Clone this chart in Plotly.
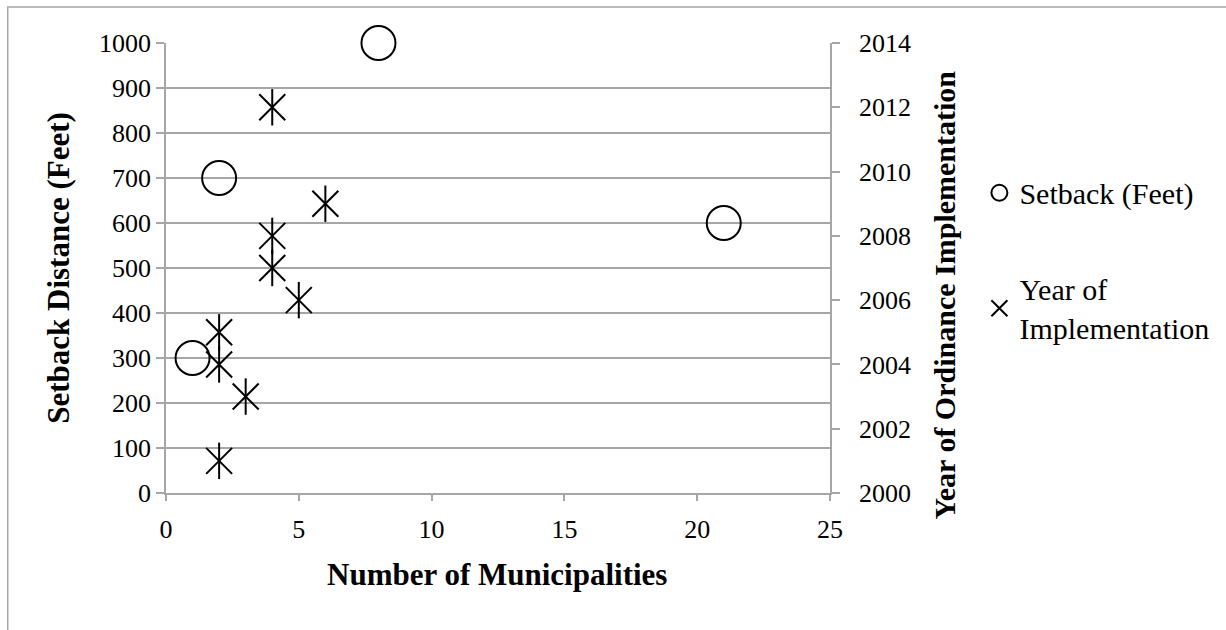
import plotly.graph_objects as go

# Setback distance (feet) by number of municipalities
setback_munis = [1, 2, 8, 21]
setback_feet = [300, 700, 1000, 600]

# Year the ordinance was implemented, by number of municipalities
year_munis = [2, 3, 2, 2, 5, 4, 4, 6, 4]
year_impl = [2001, 2003, 2004, 2005, 2006, 2007, 2008, 2009, 2012]

x_ticks = [0, 5, 10, 15, 20, 25]
left_ticks = list(range(0, 1001, 100))
right_ticks = list(range(2000, 2015, 2))

GRID = "#a6a6a6"
SERIF = "Liberation Serif, Times New Roman, serif"

fig = go.Figure()

fig.add_trace(go.Scatter(
    x=setback_munis, y=setback_feet, mode="markers", name="Setback (Feet)",
    legendgroup="a", cliponaxis=False,
    marker=dict(symbol="circle-open", size=34, color="black",
                line=dict(color="black", width=2)),
    yaxis="y",
))

# asterisk-style marker: diagonal cross plus a vertical stroke
fig.add_trace(go.Scatter(
    x=year_munis, y=year_impl, mode="markers", name="Year of<br>Implementation",
    legendgroup="b", cliponaxis=False,
    marker=dict(symbol="x-thin-open", size=26, color="black",
                line=dict(color="black", width=2)),
    yaxis="y2",
))
fig.add_trace(go.Scatter(
    x=year_munis, y=year_impl, mode="markers", showlegend=False,
    legendgroup="b", cliponaxis=False,
    marker=dict(symbol="line-ns-open", size=26, color="black",
                line=dict(color="black", width=2)),
    yaxis="y2",
))

fig.update_layout(
    width=1226, height=630,
    margin=dict(l=166, r=393, t=43, b=137),
    paper_bgcolor="white", plot_bgcolor="white",
    font=dict(family=SERIF, size=26, color="black"),
    xaxis=dict(
        range=[0, 25], tickvals=x_ticks, ticktext=[str(v) for v in x_ticks],
        showgrid=False, zeroline=False,
        showline=True, linecolor=GRID, linewidth=1.5,
        ticks="outside", ticklen=6, tickcolor=GRID, tickwidth=1.5,
        tickfont=dict(size=26), ticklabelstandoff=6,
    ),
    yaxis=dict(
        range=[0, 1000], tickvals=left_ticks, ticktext=[str(v) for v in left_ticks],
        showgrid=True, gridcolor=GRID, gridwidth=1.5, zeroline=False,
        showline=True, linecolor=GRID, linewidth=1.5,
        ticks="outside", ticklen=8, tickcolor=GRID, tickwidth=1.5,
        tickfont=dict(size=26),
    ),
    yaxis2=dict(
        range=[2000, 2014], tickvals=right_ticks, ticktext=[str(v) for v in right_ticks],
        overlaying="y", side="right", showgrid=False, zeroline=False,
        showline=True, linecolor=GRID, linewidth=1.5,
        ticks="outside", ticklen=8, tickcolor=GRID, tickwidth=1.5,
        tickfont=dict(size=26), ticklabelstandoff=14,
    ),
    legend=dict(
        x=1.225, y=0.725, xanchor="left", yanchor="top",
        font=dict(family=SERIF, size=30), bgcolor="rgba(0,0,0,0)",
        itemsizing="trace", tracegroupgap=54, traceorder="grouped",
    ),
    showlegend=True,
)

fig.add_annotation(
    text="<b>Setback Distance (Feet)</b>", xref="paper", yref="paper",
    x=-0.163, y=0.5, xanchor="center", yanchor="middle",
    textangle=-90, showarrow=False,
    font=dict(family=SERIF, size=31),
)
fig.add_annotation(
    text="<b>Number of Municipalities</b>", xref="paper", yref="paper",
    x=0.498, y=-0.182, xanchor="center", yanchor="middle", showarrow=False,
    font=dict(family=SERIF, size=31),
)
fig.add_annotation(
    text="<b>Year of Ordinance Implementation</b>", xref="paper", yref="paper",
    x=1.171, y=0.44, xanchor="center", yanchor="middle",
    textangle=-90, showarrow=False,
    font=dict(family=SERIF, size=30),
)

# outer chart frame
fig.add_shape(
    type="rect", xref="paper", yref="paper",
    x0=(7 - 166) / 667, x1=(1240 - 166) / 667,
    y0=(493 - 640) / 450, y1=(493 - 7) / 450,
    line=dict(color="#a6a6a6", width=1.5), fillcolor="rgba(0,0,0,0)", layer="below",
)

fig.write_html("out.html")
